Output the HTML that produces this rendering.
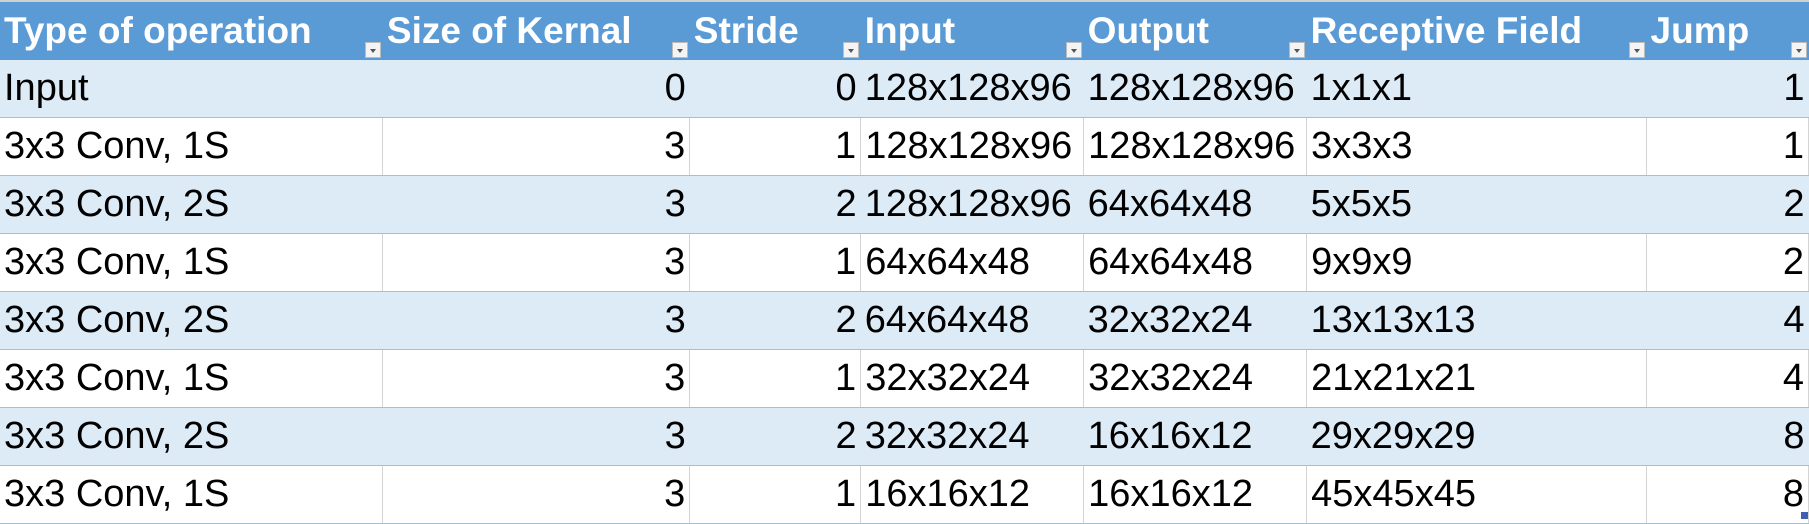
<!DOCTYPE html>
<html><head><meta charset="utf-8"><style>
body{margin:0;width:1809px;height:524px;background:#fff;overflow:hidden;font-family:"Liberation Sans",sans-serif;}
table{border-collapse:collapse;table-layout:fixed;position:absolute;left:0;top:0;}
td,th{height:57px;padding:0 4px;font-size:38px;white-space:nowrap;overflow:hidden;border-bottom:1px solid #9BC2E6;}
th{height:58px;background:#5B9BD5;color:#fff;text-align:left;font-weight:bold;position:relative;border-bottom:none;border-top:2px solid #d0d0d0;font-size:37px;}
tr.b td{background:#DDEBF7;}
tr.w td{border-right:1px solid #D4D4D4;}
td.n{text-align:right;}
.dd{position:absolute;right:2px;bottom:2px;width:16px;height:16px;background:#f4f4f4;border:1px solid #bbb;box-sizing:border-box;}
.dd:after{content:"";position:absolute;left:4px;top:6px;border-left:3px solid transparent;border-right:3px solid transparent;border-top:4px solid #555;}
</style></head><body>
<table>
<colgroup><col style="width:383px"><col style="width:307px"><col style="width:171px"><col style="width:223px"><col style="width:223px"><col style="width:340px"><col style="width:162px"></colgroup>
<tr>
<th>Type of operation<span class="dd"></span></th>
<th>Size of Kernal<span class="dd"></span></th>
<th>Stride<span class="dd"></span></th>
<th>Input<span class="dd"></span></th>
<th>Output<span class="dd"></span></th>
<th>Receptive Field<span class="dd"></span></th>
<th>Jump<span class="dd"></span></th>
</tr>
<tr class="b"><td>Input</td><td class="n">0</td><td class="n">0</td><td>128x128x96</td><td>128x128x96</td><td>1x1x1</td><td class="n">1</td></tr>
<tr class="w"><td>3x3 Conv, 1S</td><td class="n">3</td><td class="n">1</td><td>128x128x96</td><td>128x128x96</td><td>3x3x3</td><td class="n">1</td></tr>
<tr class="b"><td>3x3 Conv, 2S</td><td class="n">3</td><td class="n">2</td><td>128x128x96</td><td>64x64x48</td><td>5x5x5</td><td class="n">2</td></tr>
<tr class="w"><td>3x3 Conv, 1S</td><td class="n">3</td><td class="n">1</td><td>64x64x48</td><td>64x64x48</td><td>9x9x9</td><td class="n">2</td></tr>
<tr class="b"><td>3x3 Conv, 2S</td><td class="n">3</td><td class="n">2</td><td>64x64x48</td><td>32x32x24</td><td>13x13x13</td><td class="n">4</td></tr>
<tr class="w"><td>3x3 Conv, 1S</td><td class="n">3</td><td class="n">1</td><td>32x32x24</td><td>32x32x24</td><td>21x21x21</td><td class="n">4</td></tr>
<tr class="b"><td>3x3 Conv, 2S</td><td class="n">3</td><td class="n">2</td><td>32x32x24</td><td>16x16x12</td><td>29x29x29</td><td class="n">8</td></tr>
<tr class="w"><td>3x3 Conv, 1S</td><td class="n">3</td><td class="n">1</td><td>16x16x12</td><td>16x16x12</td><td>45x45x45</td><td class="n">8</td></tr>
</table>
<div style="position:absolute;left:1801px;top:512px;width:7px;height:7px;background:#3F5FB0;"></div>
</body></html>
